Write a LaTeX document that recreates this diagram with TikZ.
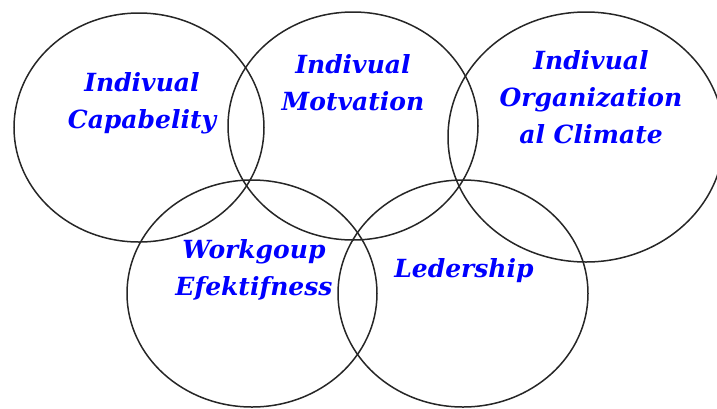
\documentclass[tikz,border=0pt]{standalone}
\usepackage{fontspec}
\setmainfont{DejaVu Serif}
\usetikzlibrary{shapes.geometric}
\newcommand{\stacked}[1]{\begin{tabular}{@{}c@{}}#1\end{tabular}}
\tikzset{
  ring/.style={draw=black!85, line width=1.5pt, ellipse, inner sep=0pt, outer sep=0pt},
  lbl/.style={text=blue, inner sep=0pt, font=\fontsize{25}{37}\selectfont\bfseries\itshape}
}
\begin{document}
\begin{tikzpicture}[x=1pt,y=-1pt]
\useasboundingbox (0,0) rectangle (717,408);
\clip (0,0) rectangle (717,408);
\node[ring, minimum width=250pt, minimum height=229pt] (e1) at (139,127.5) {};
\node[ring, minimum width=250pt, minimum height=228pt] (e2) at (353,126) {};
\node[ring, minimum width=276pt, minimum height=250pt] (e3) at (586,137) {};
\node[ring, minimum width=250pt, minimum height=227pt] (e4) at (252,293.5) {};
\node[ring, minimum width=250pt, minimum height=227pt] (e5) at (463,293.5) {};
\node[lbl] (t1) at (142,102.8) {\stacked{Indivual\\Capabelity}};
\node[lbl] (t2) at (353,85) {\stacked{Indivual\\Motvation}};
\node[lbl] (t3) at (591,99) {\stacked{Indivual\\Organization\\al Climate}};
\node[lbl] (t4) at (254,270) {\stacked{Workgoup\\Efektifness}};
\node[lbl, anchor=base] (t5) at (464,277) {Ledership};
\end{tikzpicture}
\end{document}
